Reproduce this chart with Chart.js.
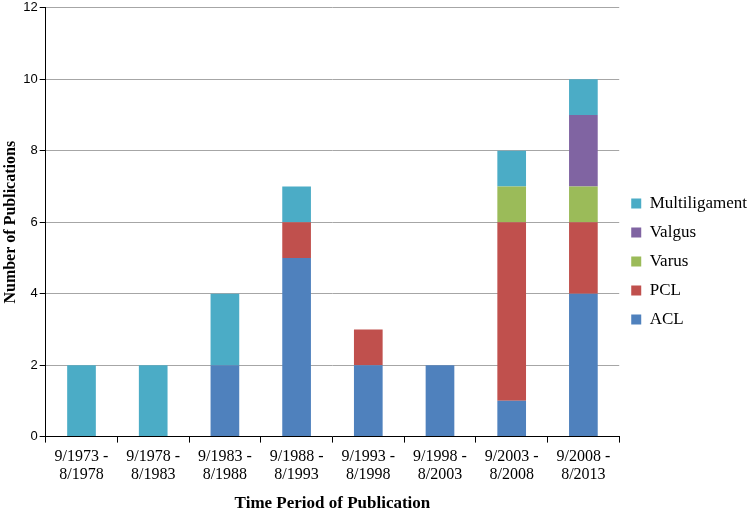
<!DOCTYPE html>
<html>
<head>
<meta charset="utf-8">
<script src="https://cdn.jsdelivr.net/npm/chart.js@4/dist/chart.umd.min.js"></script>
<style>
html,body{margin:0;padding:0;background:#fff;}
</style>
</head>
<body>
<canvas id="c" width="750" height="510"></canvas>
<script>
const categories = [
  ["9/1973 -","8/1978"],["9/1978 -","8/1983"],["9/1983 -","8/1988"],["9/1988 -","8/1993"],
  ["9/1993 -","8/1998"],["9/1998 -","8/2003"],["9/2003 -","8/2008"],["9/2008 -","8/2013"]
];
const acl           = [0,0,2,5,2,2,1,4];
const pcl           = [0,0,0,1,1,0,5,2];
const varus         = [0,0,0,0,0,0,1,1];
const valgus        = [0,0,0,0,0,0,0,2];
const multiligament = [2,2,2,1,0,0,1,1];
const yTicks = [0,2,4,6,8,10,12];

const SERIF = "'Liberation Serif'";
const SANS = "'Liberation Sans'";

function ds(label, data, color){
  return {label, data, backgroundColor: color, borderWidth: 0, barPercentage: 0.4, categoryPercentage: 1.0};
}

const chart = new Chart(document.getElementById('c'), {
  type: 'bar',
  data: {
    labels: categories,
    datasets: [
      ds('ACL', acl, '#4F81BD'),
      ds('PCL', pcl, '#C0504D'),
      ds('Varus', varus, '#9BBB59'),
      ds('Valgus', valgus, '#8064A2'),
      ds('Multiligament', multiligament, '#4BACC6')
    ]
  },
  options: {
    responsive: false,
    animation: false,
    layout: {padding: {top: -8, right: -7, left: 1, bottom: -4}},
    plugins: {
      tooltip: {enabled: false},
      legend: {
        position: 'right',
        reverse: true,
        title: {display: true, text: ' ', font: {size: 10}, padding: {top: 5, bottom: 0}},
        labels: {
          boxWidth: 10, boxHeight: 10, padding: 12,
          color: '#000',
          font: {family: SERIF, size: 17}
        }
      }
    },
    scales: {
      x: {
        stacked: true,
        grid: {display: true, drawOnChartArea: false, offset: true, tickLength: 6, color: '#000', lineWidth: 1},
        border: {color: '#000', width: 1},
        ticks: {color: '#000', font: {family: SERIF, size: 16, lineHeight: 1.125}, maxRotation: 0, autoSkip: false, padding: 5},
        title: {display: true, text: 'Time Period of Publication', color: '#000', font: {family: SERIF, size: 17, weight: 'bold'}, padding: {top: 5, bottom: 0}}
      },
      y: {
        stacked: true,
        min: 0, max: 12,
        afterBuildTicks: (axis) => { axis.ticks = yTicks.map(v => ({value: v})); },
        grid: {color: '#A6A6A6', tickColor: '#000', tickLength: 6, lineWidth: 1},
        border: {color: '#000', width: 1},
        ticks: {color: '#000', font: {family: SANS, size: 13, lineHeight: 0.9}, padding: 2},
        title: {display: true, text: 'Number of Publications', color: '#000', font: {family: SERIF, size: 16, weight: 'bold'}, padding: {top: 0, bottom: 1}}
      }
    }
  }
});
</script>
</body>
</html>
